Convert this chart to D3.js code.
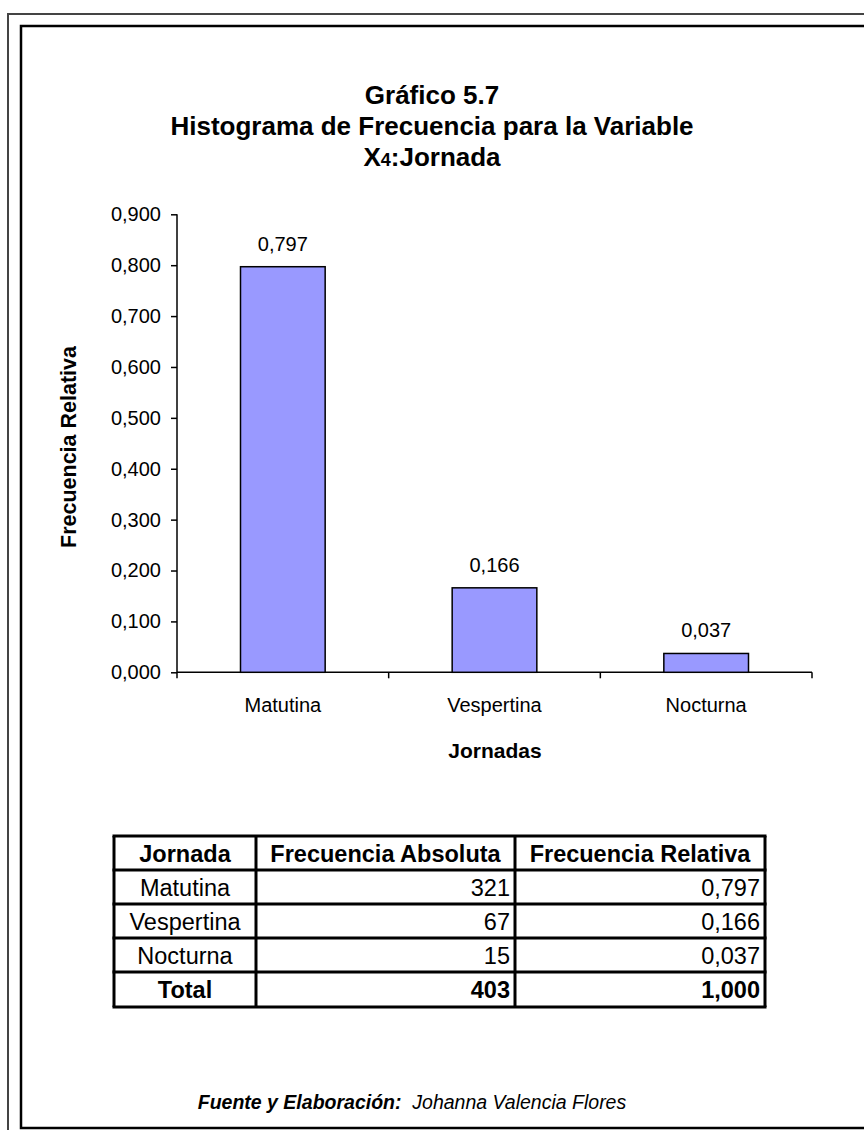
<!DOCTYPE html>
<html><head><meta charset="utf-8">
<script src="https://cdn.jsdelivr.net/npm/d3@7"></script>
<style>body{margin:0;background:#fff}svg{display:block}text{font-family:"Liberation Sans",Arial,sans-serif}</style>
</head><body>
<script>
const categories = ["Matutina", "Vespertina", "Nocturna"];
const relFreq = [0.797, 0.166, 0.037];
const absFreq = [321, 67, 15];
const yTicks = [0, 0.1, 0.2, 0.3, 0.4, 0.5, 0.6, 0.7, 0.8, 0.9];
const titleLines = ["Gráfico 5.7", "Histograma de Frecuencia para la Variable"];
const tableHeader = ["Jornada", "Frecuencia Absoluta", "Frecuencia Relativa"];
const totalAbs = 403, totalRel = 1.000;

const W = 864, H = 1130;
const svg = d3.select("body").append("svg").attr("width", W).attr("height", H);
const fmt = v => d3.format(".3f")(v).replace(".", ",");

// borders
svg.append("rect").attr("x", 8).attr("y", 14).attr("width", 900).attr("height", 1200)
  .attr("fill", "none").attr("stroke", "#444").attr("stroke-width", 2);
svg.append("rect").attr("x", 21).attr("y", 26).attr("width", 900).attr("height", 1102)
  .attr("fill", "none").attr("stroke", "#000").attr("stroke-width", 2.5);

// title
const tg = svg.append("g").attr("font-weight", "bold").attr("font-size", 26).attr("text-anchor", "middle");
tg.append("text").attr("x", 432).attr("y", 104).text(titleLines[0]);
tg.append("text").attr("x", 432).attr("y", 135).text(titleLines[1]);
const t3 = tg.append("text").attr("x", 432).attr("y", 166);
t3.append("tspan").text("X");
t3.append("tspan").attr("font-size", 18).text("4");
t3.append("tspan").text(":Jornada");

// scales
const x = d3.scaleBand().domain(categories).range([177, 812]).padding(0);
const y = d3.scaleLinear().domain([0, 0.9]).range([672.3, 214.3]);

// y axis
const yAxis = svg.append("g").attr("transform", "translate(177,0)")
  .call(d3.axisLeft(y).tickValues(yTicks).tickFormat(fmt).tickSize(6).tickPadding(10));
yAxis.select(".domain").attr("stroke", "#000").attr("stroke-width", 1.5).attr("d", `M0,${y(0.9)}V${y(0)}`);
yAxis.selectAll(".tick line").attr("stroke", "#000").attr("stroke-width", 1.5);
yAxis.selectAll(".tick text").attr("font-size", 20).attr("fill", "#000").attr("font-family", "Liberation Sans, Arial, sans-serif");

// x axis
const xAxisG = svg.append("g").attr("transform", `translate(0,${y(0)})`);
xAxisG.append("line").attr("x1", 177).attr("x2", 812).attr("stroke", "#000").attr("stroke-width", 1.5);
const bounds = categories.map(c => x(c)).concat([x.range()[1]]);
xAxisG.selectAll(".xt").data(bounds).join("line")
  .attr("x1", d => d).attr("x2", d => d).attr("y1", 0).attr("y2", 6)
  .attr("stroke", "#000").attr("stroke-width", 1.5);
xAxisG.selectAll(".xl").data(categories).join("text")
  .attr("x", d => x(d) + x.bandwidth() / 2).attr("y", 40)
  .attr("text-anchor", "middle").attr("font-size", 20).text(d => d);

// bars
const bw = x.bandwidth() * 0.4;
svg.selectAll(".bar").data(categories).join("rect")
  .attr("x", d => x(d) + x.bandwidth() / 2 - bw / 2)
  .attr("y", (d, i) => y(relFreq[i]))
  .attr("width", bw)
  .attr("height", (d, i) => y(0) - y(relFreq[i]))
  .attr("fill", "#9999FF").attr("stroke", "#000").attr("stroke-width", 1.5);
svg.selectAll(".vl").data(categories).join("text")
  .attr("x", d => x(d) + x.bandwidth() / 2)
  .attr("y", (d, i) => y(relFreq[i]) - 16)
  .attr("text-anchor", "middle").attr("font-size", 20).text((d, i) => fmt(relFreq[i]));

// axis titles
svg.append("text").attr("transform", "translate(76,447) rotate(-90)")
  .attr("text-anchor", "middle").attr("font-weight", "bold").attr("font-size", 21.5).text("Frecuencia Relativa");
svg.append("text").attr("x", 495).attr("y", 758)
  .attr("text-anchor", "middle").attr("font-weight", "bold").attr("font-size", 21).text("Jornadas");

// table
const colX = [114, 256, 515, 765];
const rowY = [836, 870, 904, 938, 972, 1007];
const rows = categories.map((c, i) => [c, String(absFreq[i]), fmt(relFreq[i])]);
const tbl = svg.append("g");
const allRows = [tableHeader].concat(rows).concat([["Total", String(totalAbs), fmt(totalRel)]]);
allRows.forEach((r, ri) => {
  const bold = ri === 0 || ri === allRows.length - 1;
  const cy = (rowY[ri] + rowY[ri + 1]) / 2 + 8.5;
  r.forEach((v, ci) => {
    const centered = ci === 0 || ri === 0;
    tbl.append("text")
      .attr("x", centered ? (colX[ci] + colX[ci + 1]) / 2 : colX[ci + 1] - 5)
      .attr("y", cy)
      .attr("text-anchor", centered ? "middle" : "end")
      .attr("font-size", 23.5).attr("font-weight", bold ? "bold" : "normal").text(v);
  });
});
rowY.forEach(yy => tbl.append("line").attr("x1", colX[0] - 1.5).attr("x2", colX[3] + 1.5).attr("y1", yy).attr("y2", yy)
  .attr("stroke", "#000").attr("stroke-width", 3));
colX.forEach(xx => tbl.append("line").attr("x1", xx).attr("x2", xx).attr("y1", rowY[0]).attr("y2", rowY[5])
  .attr("stroke", "#000").attr("stroke-width", 3));

// footer
const ft = svg.append("text").attr("x", 412).attr("y", 1109).attr("text-anchor", "middle")
  .attr("font-size", 19.5).attr("font-style", "italic");
ft.append("tspan").attr("font-weight", "bold").text("Fuente y Elaboración:");
ft.append("tspan").text("\u00a0\u00a0Johanna Valencia Flores");
</script>
</body></html>
